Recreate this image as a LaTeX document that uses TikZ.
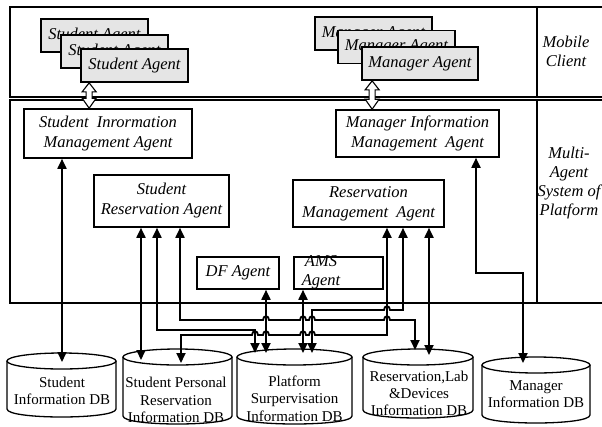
\documentclass[tikz,border=0pt]{standalone}
\usepackage{fontspec}
\setmainfont{Liberation Serif}
\usetikzlibrary{arrows.meta,calc}
\newcommand\dbcyl[5]{%
  \draw[dbline, fill=white] ({#1-#4},#2) -- ({#1-#4},#3) .. controls ({#1-#4},{#3+1.333*#5}) and ({#1+#4},{#3+1.333*#5}) .. ({#1+#4},#3) -- ({#1+#4},#2);
  \draw[dbline, fill=white] (#1,#2) ellipse [x radius=#4, y radius=#5];
}
\newcommand\hollowarr[2]{%
  \filldraw[fill=white,line width=1.1pt] (#1) -- ($(#1)+(7,9)$) -- ($(#1)+(3,9)$) -- ($(#2)+(3,-10)$) -- ($(#2)+(7,-10)$) -- (#2) -- ($(#2)+(-7,-10)$) -- ($(#2)+(-3,-10)$) -- ($(#1)+(-3,9)$) -- ($(#1)+(-7,9)$) -- cycle;
}
\begin{document}
\begin{tikzpicture}[x=1pt,y=-1pt,
  agent/.style={draw, line width=1.7pt, fill=gray!20, minimum width=107pt, minimum height=33pt, inner sep=0pt, font=\itshape\fontsize{16.5}{20}\selectfont},
  box/.style={draw, line width=1.6pt, fill=white, inner sep=0pt, align=center, font=\itshape\fontsize{16.5}{20}\selectfont},
  dbtext/.style={align=center, inner sep=0pt, font=\fontsize{15}{17.3}\selectfont},
  frame/.style={line width=1.6pt},
  dar/.style={line width=1.8pt, {Triangle[length=10pt,width=9pt]}-{Triangle[length=10pt,width=9pt]}},
  dbline/.style={line width=1.3pt},
  side/.style={font=\itshape\fontsize{16.5}{19}\selectfont, align=center, inner sep=0pt}]

\useasboundingbox (0,0) rectangle (602,426);

% frames
\draw[frame] (610,7) -- (10,7) -- (10,97) -- (610,97);
\draw[frame] (610,100) -- (10,100) -- (10,303) -- (610,303);
\draw[frame] (537,7) -- (537,97);
\draw[frame] (537,100) -- (537,303);

\node[side] (mc) at (566,51) {Mobile\\Client};
\node[side] (mas) at (569,183) {Multi-\\Agent\\System of\\Platform};

% mobile agents
\node[agent] (sa1) at (94.5,35.5) {Student Agent};
\node[agent] (sa2) at (114.5,51.5) {Student Agent};
\node[agent] (sa3) at (134.5,65.5) {Student Agent};
\node[agent, minimum width=117pt] (ma1) at (373.5,33.5) {Manager Agent};
\node[agent, minimum width=117pt] (ma2) at (396.5,47) {Manager Agent};
\node[agent, minimum width=116pt] (ma3) at (420,63.5) {Manager Agent};

% platform agents
\node[box, minimum width=168pt, minimum height=49pt] (sim) at (108,133.5) {Student\ \ Inrormation\\Management Agent};
\node[box, minimum width=163pt, minimum height=47pt] (mim) at (417.5,133.5) {Manager Information\\Management\ \ Agent};
\node[box, minimum width=135pt, minimum height=52pt] (sra) at (161.5,201) {Student\\Reservation Agent};
\node[box, minimum width=151pt, minimum height=47pt] (rma) at (368.5,203.5) {Reservation\\Management\ \ Agent};
\node[box, minimum width=82pt, minimum height=32pt] (df) at (238,273) {DF Agent};
\node[box, minimum width=89pt, minimum height=32pt] (ams) at (338.5,273) {};
\node[side, font=\itshape\fontsize{16.5}{19}\selectfont] (amst) at (321,272.5) {AMS\\Agent};

% hollow double arrows
\coordinate (h1t) at ([xshift=9pt]sa3.south west);
\coordinate (h1b) at (h1t |- sim.north);
\hollowarr{h1t}{h1b}
\coordinate (h2t) at ([xshift=11pt]ma3.south west);
\coordinate (h2b) at (h2t |- mim.north);
\hollowarr{h2t}{h2b}

% databases
\dbcyl{61.5}{361}{409}{54.5}{8}
\dbcyl{177.5}{357}{416}{54.5}{8}
\dbcyl{294.5}{357}{416}{57.5}{8}
\dbcyl{418}{357}{410}{55}{8}
\dbcyl{536}{365}{415}{54}{8}
\node[dbtext] (sidb) at (62,391) {Student\\Information DB};
\node[dbtext] (spdb) at (176,400) {Student Personal\\Reservation\\Information DB};
\node[dbtext] (pldb) at (294.5,398.5) {Platform\\Surpervisation\\Information DB};
\node[dbtext] (rldb) at (419,393.5) {Reservation,Lab\\\&Devices\\Information DB};
\node[dbtext] (mgdb) at (536,394) {Manager\\Information DB};

% connectors
\draw[dar] (sim.south -| 62,0) -- (62,362);
\draw[dar] (sra.south -| 141,0) -- (141,360);
\draw[dar] (sra.south -| 157,0) -- (157,330) -- (255,330) -- (255,353);
\draw[dar] (sra.south -| 180,0) -- (180,320) -- (263,320)
  .. controls +(0,-5) and +(0,-5) .. ++(6,0) -- (300,320)
  .. controls +(0,-5) and +(0,-5) .. ++(6,0) -- (309,320)
  .. controls +(0,-5) and +(0,-5) .. ++(6,0) -- (384,320)
  .. controls +(0,-5) and +(0,-5) .. ++(6,0) -- (415,320) -- (415,350);
\draw[dar] (rma.south -| 387,0) -- (387,335) -- (315,335)
  .. controls +(0,-5) and +(0,-5) .. ++(-6,0) -- (306,335)
  .. controls +(0,-5) and +(0,-5) .. ++(-6,0) -- (269,335)
  .. controls +(0,-5) and +(0,-5) .. ++(-6,0) -- (258,335)
  .. controls +(0,-5) and +(0,-5) .. ++(-6,0) -- (181,335) -- (181,363);
\draw[dar] (rma.south -| 403,0) -- (403,310) -- (390,310)
  .. controls +(0,-5) and +(0,-5) .. ++(-6,0) -- (312,310) -- (312,353);
\draw[dar] (rma.south -| 429,0) -- (429,355);
\draw[dar] (df.south -| 266,0) -- (266,353);
\draw[dar] (ams.south -| 303,0) -- (303,353);
\draw[dar] (mim.south -| 476,0) -- (476,273) -- (523,273) -- (523,363);
\end{tikzpicture}
\end{document}
